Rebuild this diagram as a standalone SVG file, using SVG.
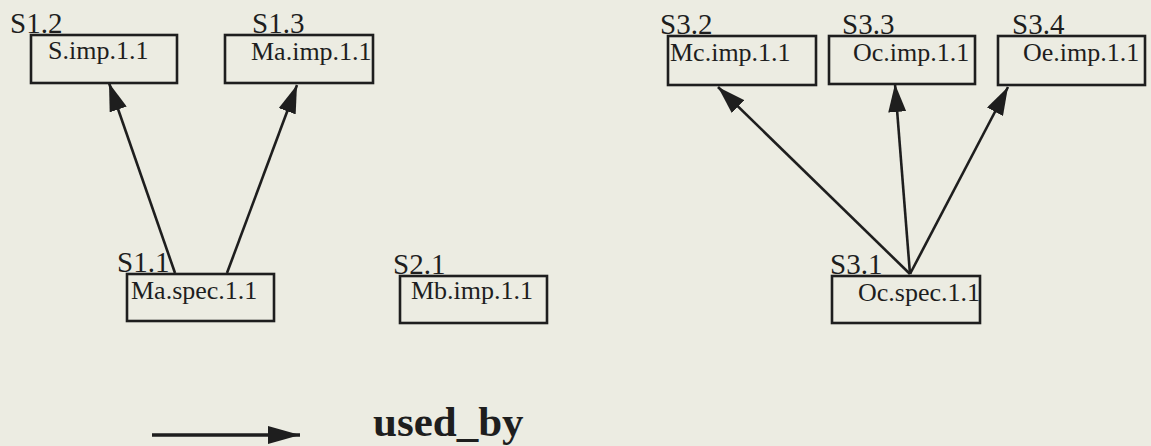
<svg xmlns="http://www.w3.org/2000/svg" width="1151" height="446" viewBox="0 0 1151 446">
<style>
.bg{fill:#ececE2}
.box{fill:none;stroke:#1e1e1e;stroke-width:2.6}
.lbl{font-family:"Liberation Serif","Times New Roman",serif;font-size:29px;fill:#1e1e1e}
.txt{font-family:"Liberation Serif","Times New Roman",serif;font-size:26px;fill:#1e1e1e}
.edge{stroke:#1e1e1e;stroke-width:2.6;fill:none;marker-end:url(#ah)}
.legline{stroke:#1e1e1e;stroke-width:3.4;fill:none;marker-end:url(#ah2)}
.leg{font-family:"Liberation Serif","Times New Roman",serif;font-size:43px;font-weight:bold;fill:#1e1e1e}
</style>
<defs>
<marker id="ah" markerUnits="userSpaceOnUse" markerWidth="30" markerHeight="18" refX="28" refY="9" orient="auto">
<path d="M0,0 L28,9 L0,18 z" fill="#1e1e1e"/>
</marker>
<marker id="ah2" markerUnits="userSpaceOnUse" markerWidth="34" markerHeight="18" refX="32" refY="9" orient="auto">
<path d="M0,0 L32,9 L0,18 z" fill="#1e1e1e"/>
</marker>
</defs>
<rect class="bg" x="0" y="0" width="1151" height="446"/>
<g id="connectors">
<line class="edge" x1="175" y1="273" x2="109" y2="83"/>
<line class="edge" x1="227" y1="273" x2="297" y2="85"/>
<line class="edge" x1="910" y1="274" x2="718" y2="87"/>
<line class="edge" x1="910" y1="274" x2="895" y2="84"/>
<line class="edge" x1="910" y1="274" x2="1008" y2="87"/>
</g>
<g id="S1.2">
<rect class="box" x="31" y="35" width="146" height="48"/>
<text class="lbl" x="10" y="33">S1.2</text>
<text class="txt" x="48" y="59">S.imp.1.1</text>
</g>
<g id="S1.3">
<rect class="box" x="225" y="35" width="148" height="48"/>
<text class="lbl" x="252" y="33">S1.3</text>
<text class="txt" x="251" y="60">Ma.imp.1.1</text>
</g>
<g id="S1.1">
<rect class="box" x="127" y="274" width="147" height="47"/>
<text class="lbl" x="117" y="272">S1.1</text>
<text class="txt" x="131" y="299">Ma.spec.1.1</text>
</g>
<g id="S2.1">
<rect class="box" x="400" y="276" width="147" height="47"/>
<text class="lbl" x="393" y="274">S2.1</text>
<text class="txt" x="411" y="299">Mb.imp.1.1</text>
</g>
<g id="S3.2">
<rect class="box" x="668" y="36" width="148" height="49"/>
<text class="lbl" x="660" y="34">S3.2</text>
<text class="txt" x="670" y="61">Mc.imp.1.1</text>
</g>
<g id="S3.3">
<rect class="box" x="829" y="36" width="146" height="48"/>
<text class="lbl" x="842" y="34">S3.3</text>
<text class="txt" x="853" y="61">Oc.imp.1.1</text>
</g>
<g id="S3.4">
<rect class="box" x="998" y="36" width="147" height="49"/>
<text class="lbl" x="1012" y="34">S3.4</text>
<text class="txt" x="1023" y="61">Oe.imp.1.1</text>
</g>
<g id="S3.1">
<rect class="box" x="832" y="276" width="148" height="47"/>
<text class="lbl" x="830" y="274">S3.1</text>
<text class="txt" x="858" y="301">Oc.spec.1.1</text>
</g>
<g id="legend">
<line class="legline" x1="152" y1="435" x2="300" y2="435"/>
<text class="leg" x="373" y="436">used_by</text>
</g>
</svg>
